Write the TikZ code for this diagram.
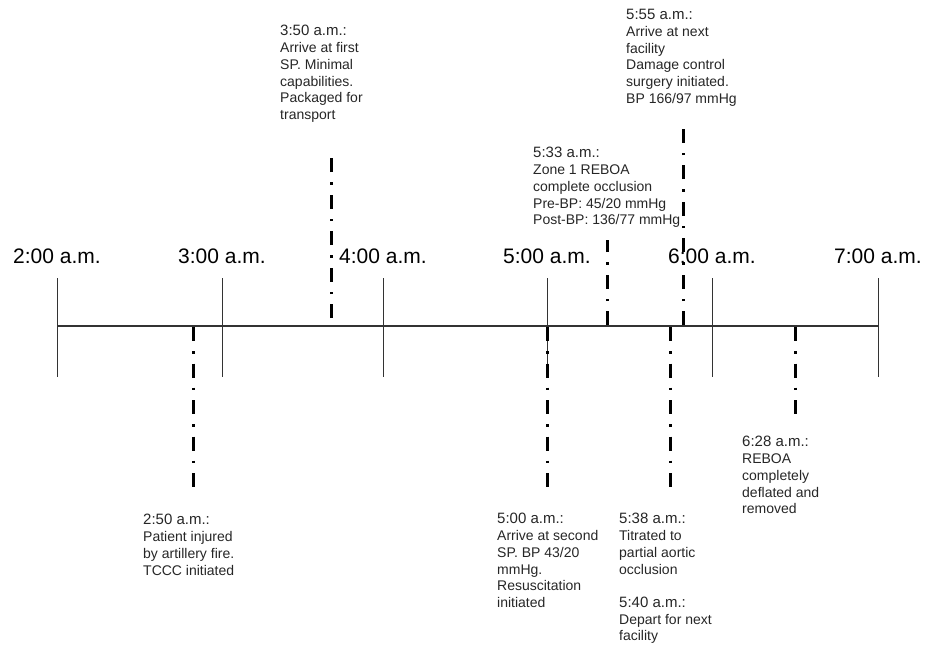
\documentclass[tikz,border=0pt]{standalone}
\usepackage{fontspec}
\setmainfont{Liberation Sans}
\usepackage{tikz}
\tikzset{
    event/.style={line width=3pt,dash pattern=on 14pt off 10pt on 2.5pt off 10pt},
    tick/.style={line width=1pt,draw=black!80},
    hour/.style={anchor=base,inner sep=0pt,font=\fontsize{21}{25}\selectfont},
    note/.style={anchor=north west,inner sep=0pt,align=left,text=black!85,font=\fontsize{14}{16.7}\selectfont}
}
\newcommand{\when}[1]{{\fontsize{15}{16.7}\selectfont #1}}

\begin{document}
\begin{tikzpicture}[x=1pt,y=-1pt]
    \useasboundingbox (0,0) rectangle (929,646);
    \draw[line width=1.3pt,draw=black!80] (57,326) coordinate (start) -- (878,326) coordinate (stop);
    \foreach \h/\x in {2/57,3/222,4/383,5/547,6/712,7/878}{
        \draw[tick] (\x,278) coordinate (top\h) -- (\x,377) coordinate (bot\h);
        \node[hour] (h\h) at (\x,263) {\h:00 a.m.};
    }
    \foreach \n/\x/\a/\b in {e250/193/327/492,e350/331/318/153,e500/547/327/492,e533/607/325/240,
        e538/670/327/492,e555/683/325/120,e628/795/327/415}
        \draw[event] (\x,\a) coordinate (\n a) -- (\x,\b) coordinate (\n b);
    \node[note] (n250) at (143,514.3) {\when{2:50 a.m.:}\\Patient injured\\by artillery fire.\\TCCC initiated};
    \node[note] (n350) at (280,25.3) {\when{3:50 a.m.:}\\Arrive at first\\SP. Minimal\\capabilities.\\Packaged for\\transport};
    \node[note] (n500) at (497,513.3) {\when{5:00 a.m.:}\\Arrive at second\\SP. BP 43/20\\mmHg.\\Resuscitation\\initiated};
    \node[note] (n533) at (533,147.3) {\when{5:33 a.m.:}\\Zone 1 REBOA\\complete occlusion\\Pre-BP: 45/20 mmHg\\Post-BP: 136/77 mmHg};
    \node[note] (n538) at (619,513.3) {\when{5:38 a.m.:}\\Titrated to\\partial aortic\\occlusion\\[16.7pt]\when{5:40 a.m.:}\\Depart for next\\facility};
    \node[note] (n555) at (626,9.3) {\when{5:55 a.m.:}\\Arrive at next\\facility\\Damage control\\surgery initiated.\\BP 166/97 mmHg};
    \node[note] (n628) at (742,436.3) {\when{6:28 a.m.:}\\REBOA\\completely\\deflated and\\removed};
\end{tikzpicture}
\end{document}
